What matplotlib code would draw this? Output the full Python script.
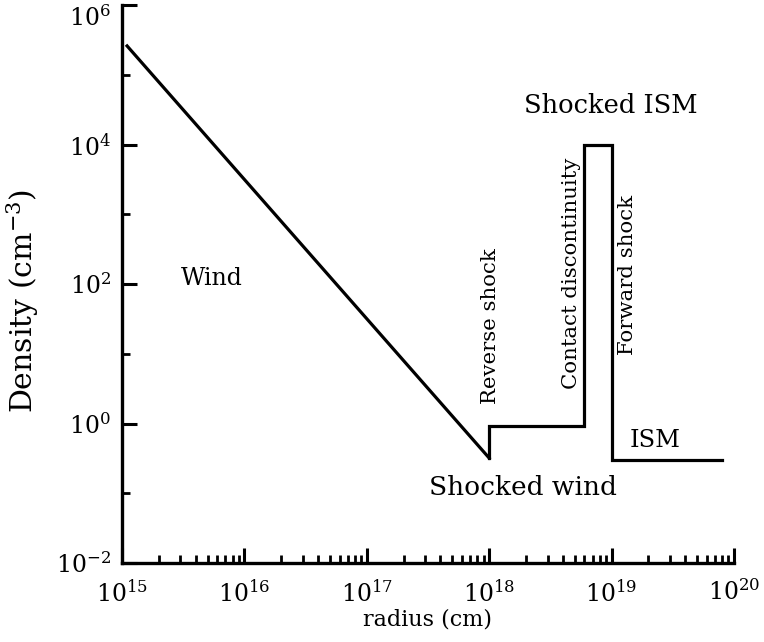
import numpy as np
import matplotlib
matplotlib.use("Agg")
import matplotlib.pyplot as plt
from matplotlib.ticker import FixedLocator, LogLocator, NullFormatter, LogFormatterMathtext

plt.rcParams['font.family'] = ['DejaVu Serif']
plt.rcParams['mathtext.fontset'] = 'dejavuserif'

# density profile (wind ~ r^-2, then shocked wind, shocked ISM, ISM)
wind_r = [1.1e15, 1e18]
wind_rho = [2.6e5, 0.32]
shock_r = [1e18, 1e18, 6e18, 6e18, 1e19, 1e19, 8e19]
shock_rho = [0.32, 0.93, 0.93, 1e4, 1e4, 0.3, 0.3]

x_ticks = [1e15, 1e16, 1e17, 1e18, 1e19, 1e20]
y_ticks = [1e-2, 1e0, 1e2, 1e4, 1e6]
y_minor = [1e-1, 1e1, 1e3, 1e5]

fig = plt.figure(figsize=(7.64, 6.42), dpi=100)
ax = fig.add_axes([0.1597, 0.123, 0.801, 0.869])

ax.plot(wind_r, wind_rho, color='black', lw=2.3, solid_joinstyle='miter')
ax.plot(shock_r, shock_rho, color='black', lw=2.3, solid_joinstyle='miter')

ax.set_xscale('log')
ax.set_yscale('log')
ax.set_xlim(1e15, 1e20)
ax.set_ylim(1e-2, 1e6)

ax.spines['top'].set_visible(False)
ax.spines['right'].set_visible(False)
ax.spines['left'].set_linewidth(2.4)
ax.spines['bottom'].set_linewidth(2.4)

ax.xaxis.set_major_locator(FixedLocator(x_ticks))
ax.xaxis.set_minor_locator(LogLocator(base=10, subs=np.arange(2, 10), numticks=20))
ax.xaxis.set_major_formatter(LogFormatterMathtext())
ax.xaxis.set_minor_formatter(NullFormatter())
ax.yaxis.set_major_locator(FixedLocator(y_ticks))
ax.yaxis.set_minor_locator(FixedLocator(y_minor))
ax.yaxis.set_major_formatter(LogFormatterMathtext())
ax.yaxis.set_minor_formatter(NullFormatter())

ax.tick_params(which='major', direction='in', length=11, width=2.2, labelsize=17)
ax.tick_params(which='minor', direction='in', length=6, width=2)
ax.tick_params(axis='x', which='major', pad=12)
ax.tick_params(axis='y', which='major', pad=8)

# top label sits below its tick so it stays inside the figure
ax.yaxis.get_major_ticks()[-1].label1.set_verticalalignment('top')

ax.set_xlabel('radius (cm)', fontsize=16, labelpad=2)
ax.set_ylabel('Density (cm$^{-3}$)', fontsize=21.5)
ax.yaxis.set_label_coords(-0.133, 0.47)

ax.text(10**15.735, 10**1.985, 'Wind', fontsize=17, ha='center', va='baseline')
ax.text(10**18.991, 10**4.452, 'Shocked ISM', fontsize=18.5, ha='center', va='baseline')
ax.text(10**18.272, 10**-1.025, 'Shocked wind', fontsize=19, ha='center', va='baseline')
ax.text(10**19.359, 10**-0.337, 'ISM', fontsize=17.5, ha='center', va='baseline')
ax.text(10**18.011, 10**1.405, 'Reverse shock', fontsize=15.3, rotation=90, ha='center', va='center')
ax.text(10**18.676, 10**2.15, 'Contact discontinuity', fontsize=15.3, rotation=90, ha='center', va='center')
ax.text(10**19.13, 10**2.13, 'Forward shock', fontsize=15.3, rotation=90, ha='center', va='center')

fig.savefig('out.png', dpi=100)
